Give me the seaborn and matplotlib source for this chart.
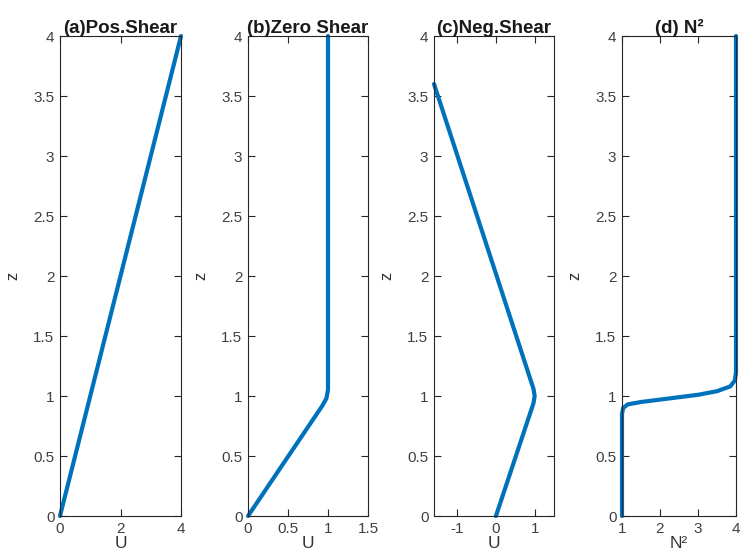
import numpy as np
import pandas as pd
import matplotlib
matplotlib.use("Agg")
import matplotlib.pyplot as plt
from matplotlib.ticker import FuncFormatter
import seaborn as sns

# ── Data ───────────────────────────────────────────────────
u_pos  = [0, 4]
z_pos  = [0, 4]

u_zero = [0, 0.93, 0.98, 1.0, 1.0]
z_zero = [0, 0.92, 0.98, 1.05, 4.0]

u_neg  = [0, 0.97, 1.0, 0.97, -1.6]
z_neg  = [0, 0.94, 1.0, 1.06, 3.6]

n2     = [1, 1, 1.03, 1.15, 1.5, 2.0, 2.5, 3.0, 3.5, 3.85, 3.97, 4, 4]
z_n2   = [0, 0.85, 0.9, 0.93, 0.95, 0.97, 0.99, 1.01, 1.04, 1.08, 1.13, 1.2, 4]

titles  = ["(a)Pos.Shear", "(b)Zero Shear", "(c)Neg.Shear", "(d) N²"]
xlabels = ["U", "U", "U", "N²"]
xlims   = [(0, 4), (0, 1.5), (-1.6, 1.5), (1, 4)]
xticks  = [[0, 2, 4], [0, 0.5, 1, 1.5], [-1, 0, 1], [1, 2, 3, 4]]
zticks  = [0, 0.5, 1, 1.5, 2, 2.5, 3, 3.5, 4]

profiles = [(u_pos, z_pos), (u_zero, z_zero), (u_neg, z_neg), (n2, z_n2)]

# ── Style ──────────────────────────────────────────────────
sns.set_style("ticks")
plt.rcParams["font.family"] = ["Liberation Sans", "DejaVu Sans"]
plt.rcParams["axes.linewidth"] = 0.8
plt.rcParams["axes.edgecolor"] = "#262626"

fig = plt.figure(figsize=(7.42, 5.58), dpi=100)
lefts  = [60, 248, 434, 622]
widths = [121, 120, 120, 114]

for i, (xv, zv) in enumerate(profiles):
    ax = fig.add_axes([lefts[i] / 742, 42 / 558, widths[i] / 742, 480 / 558])
    df = pd.DataFrame({"x": xv, "z": zv})
    sns.lineplot(data=df, x="x", y="z", sort=False, estimator=None,
                 color="#0072BD", lw=3, ax=ax, clip_on=False)
    ax.set_xlim(*xlims[i])
    ax.set_ylim(0, 4)
    ax.set_xticks(xticks[i])
    ax.set_yticks(zticks)
    fmt = FuncFormatter(lambda v, _: f"{v:g}")
    ax.xaxis.set_major_formatter(fmt)
    ax.yaxis.set_major_formatter(fmt)
    ax.tick_params(direction="in", top=True, right=True, length=5, width=0.8,
                   labelsize=11, labelcolor="#404040", color="#262626", pad=4)
    for sp in ax.spines.values():
        sp.set_visible(True)
    ax.set_title(titles[i], fontweight="bold", fontsize=13.5, pad=2, color="#1a1a1a")
    ax.set_xlabel(xlabels[i], fontsize=12.5, labelpad=0, color="#333333")
    ax.set_ylabel("z", fontsize=12, labelpad=9, color="#333333")

plt.savefig("out.png", dpi=100)
